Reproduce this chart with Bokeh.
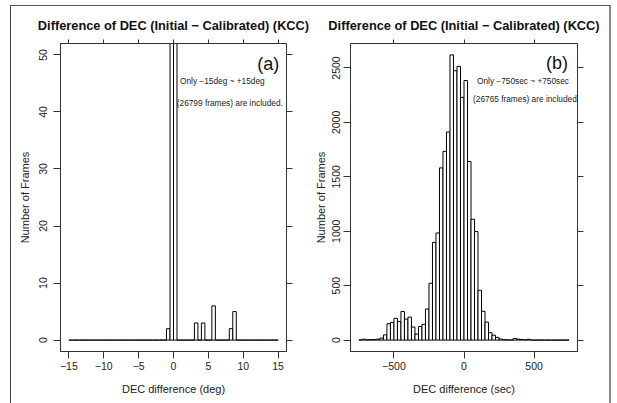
from bokeh.plotting import figure
from bokeh.models import (Range1d, LinearAxis, FixedTicker, CustomJSTickFormatter,
                          Label, ColumnDataSource)
from bokeh.layouts import row
from bokeh.embed import file_html
from bokeh.resources import INLINE

TITLE = "Difference of DEC (Initial \u2212 Calibrated) (KCC)"
FONT = "Liberation Sans"

# ---------------- Panel (a): DEC difference in degrees, 0.5 deg bins from -15 to +15
a_start = -15.0
a_binwidth = 0.5
a_counts = [0, 0, 0, 0, 0, 0, 0, 0, 0, 0,
            0, 0, 0, 0, 0, 0, 0, 0, 0, 0,
            0, 0, 0, 0, 0, 0, 0, 0, 2, 12961,
            13817, 0, 0, 0, 0, 0, 3, 0, 3, 0,
            0, 6, 0, 0, 0, 0, 2, 5, 0, 0,
            0, 0, 0, 0, 0, 0, 0, 0, 0, 0]
a_xticks = [-15, -10, -5, 0, 5, 10, 15]
a_yticks = [0, 10, 20, 30, 40, 50]
a_xlim = (-15, 15)
a_ylim = (0, 50)
a_xlabel = "DEC difference (deg)"
a_tag = "(a)"
a_note1 = "Only \u221215deg ~ +15deg"
a_note2 = "(26799 frames) are included."

# ---------------- Panel (b): DEC difference in seconds, 25 sec bins from -750 to +750
b_start = -750.0
b_binwidth = 25.0
b_counts = [2, 8, 3, 5, 5, 9, 18, 48, 150, 163,
            200, 170, 263, 193, 211, 120, 55, 125, 145, 286,
            522, 898, 984, 1582, 1734, 1912, 2620, 2475, 2515, 2230,
            2385, 1641, 1110, 997, 458, 265, 165, 68, 45, 25,
            10, 3, 2, 1, 15, 9, 6, 2, 7, 0,
            0, 1, 0, 0, 0, 0, 0, 0, 0, 0]
b_xticks = [-500, 0, 500]
b_yticks = [0, 500, 1000, 1500, 2000, 2500]
b_xlim = (-750, 750)
b_ylim = (0, max(b_counts))
b_xlabel = "DEC difference (sec)"
b_tag = "(b)"
b_note1 = "Only \u2212750sec ~ +750sec"
b_note2 = "(26765 frames) are included."

YLABEL = "Number of Frames"

MINUS_FMT = "return tick < 0 ? '\\u2212' + Math.abs(tick) : String(tick);"
EMPTY_FMT = "return '';"


def style_axis(ax, ticks, show_labels, tick_out):
    ax.ticker = FixedTicker(ticks=ticks)
    ax.axis_line_color = "#333333"
    ax.axis_line_width = 1
    ax.major_tick_line_color = "#333333"
    ax.major_tick_out = tick_out
    ax.major_tick_in = 0
    ax.minor_tick_line_color = None
    ax.major_label_text_font = FONT
    ax.major_label_text_color = "#222222"
    ax.major_label_text_font_size = "10.5px"
    if show_labels:
        ax.formatter = CustomJSTickFormatter(code=MINUS_FMT)
        ax.major_label_standoff = 3
    else:
        ax.formatter = CustomJSTickFormatter(code=EMPTY_FMT)
        ax.major_label_standoff = 0
    ax.axis_label_text_font = FONT
    ax.axis_label_text_font_size = "11px"
    ax.axis_label_text_font_style = "normal"
    ax.axis_label_text_color = "#222222"


def padded(lim):
    lo, hi = lim
    d = hi - lo
    return (lo - 0.04 * d, hi + 0.04 * d)


def panel(counts, start, bw, xlim, ylim, xticks, yticks, xlabel, width,
          mleft, mright, ytick_standoff, ylabel_standoff,
          tag, tag_xy, note1, note1_xy, note2, note2_xy):
    left = [start + bw * i for i in range(len(counts))]
    right = [v + bw for v in left]
    src = ColumnDataSource(dict(left=left, right=right, top=counts,
                                bottom=[0] * len(counts)))
    p = figure(width=width, height=397, title=None,
               x_range=Range1d(*padded(xlim)), y_range=Range1d(*padded(ylim)),
               output_backend="svg", toolbar_location=None,
               min_border_left=mleft, min_border_right=mright,
               min_border_top=37, min_border_bottom=52)
    p.xgrid.visible = False
    p.ygrid.visible = False
    p.outline_line_color = "#333333"
    p.outline_line_width = 1
    p.background_fill_color = "white"
    p.border_fill_color = "white"

    p.quad(left="left", right="right", top="top", bottom="bottom", source=src,
           fill_color="white", line_color="black", line_width=1)

    # bottom and left axes
    style_axis(p.xaxis[0], xticks, True, 7)
    p.xaxis[0].axis_label = xlabel
    p.xaxis[0].axis_label_standoff = 10
    style_axis(p.yaxis[0], yticks, True, 7)
    p.yaxis[0].major_label_standoff = ytick_standoff
    p.yaxis[0].axis_label = YLABEL
    p.yaxis[0].axis_label_standoff = ylabel_standoff
    p.yaxis[0].major_label_orientation = "vertical"

    # top axis: ticks only, carries the panel title as its label
    top_ax = LinearAxis()
    style_axis(top_ax, xticks, False, 4)
    top_ax.axis_label = TITLE
    top_ax.axis_label_text_font_style = "bold"
    top_ax.axis_label_text_font_size = "12.8px"
    top_ax.axis_label_text_color = "#111111"
    top_ax.axis_label_standoff = 7
    p.add_layout(top_ax, "above")
    right_ax = LinearAxis()
    style_axis(right_ax, yticks, False, 6)
    p.add_layout(right_ax, "right")

    p.add_layout(Label(x=tag_xy[0], y=tag_xy[1], text=tag, text_font=FONT,
                       text_font_size="18px", text_align="center",
                       text_baseline="middle", text_color="#111111"))
    p.add_layout(Label(x=note1_xy[0], y=note1_xy[1], text=note1, text_font=FONT,
                       text_font_size="8.3px", text_align="center",
                       text_baseline="middle", text_color="#222222"))
    p.add_layout(Label(x=note2_xy[0], y=note2_xy[1], text=note2, text_font=FONT,
                       text_font_size="8.3px", text_align="center",
                       text_baseline="middle", text_color="#222222"))
    return p


pa = panel(a_counts, a_start, a_binwidth, a_xlim, a_ylim, a_xticks, a_yticks,
           a_xlabel, 299, 49, 24, 6, 6,
           a_tag, (13.6, 48.4), a_note1, (7.0, 45.4), a_note2, (8.07, 41.6))
pb = panel(b_counts, b_start, b_binwidth, b_xlim, b_ylim, b_xticks, b_yticks,
           b_xlabel, 299, 40, 32, 3, 3,
           b_tag, (664, 2550), b_note1, (421, 2378), b_note2, (443, 2212))

layout = row(pa, pb, margin=(5, 0, 0, 10),
             styles={"border-top": "1px solid #555555",
                     "border-left": "1px solid #444444",
                     "border-right": "2px solid #888888"})
open("out.html", "w").write(file_html(layout, INLINE))
